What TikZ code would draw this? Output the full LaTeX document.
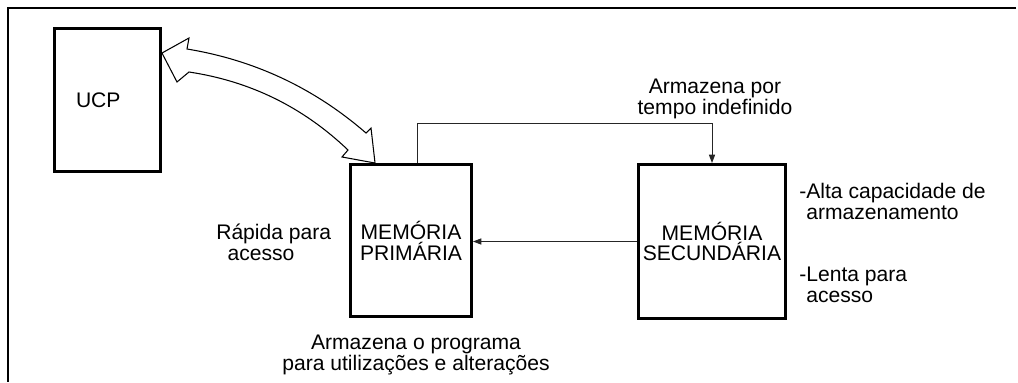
\documentclass[tikz,border=0pt]{standalone}
\usepackage{fontspec}
\setmainfont{Liberation Sans}
\usetikzlibrary{arrows.meta}
\usetikzlibrary{calc}
\tikzstyle{unit}=[draw, line width=2.1pt, inner sep=0pt, align=center, font=\fontsize{15}{14.8}\selectfont]
\tikzstyle{note}=[inner sep=0pt, font=\fontsize{15}{14.8}\selectfont]
\tikzstyle{link} = [draw, line width=0.7pt, black!85, -{Triangle[length=6pt,width=4.4pt]}]
\tikzstyle{bus} = [draw, line width=0.75pt, fill=white, line join=miter]
\tikzstyle{frame} = [draw, line width=1pt]

\begin{document}
\begin{tikzpicture}[x=0.025cm, y=-0.025cm]
    % one unit is one pixel of the original figure
    \def\px{0.025cm}
    \useasboundingbox (0,0) rectangle (1018,382);
    \path[frame] (1016,8) -- (8,8) -- (8,382);

    % First we draw the three units
    \node[unit, minimum height=143*\px, text width=63*\px, inner xsep=21.5*\px, align=left] (ucp) at (107.5,100) {UCP};
    \foreach \pos/\name/\w/\h/\label in {{(411,240.5)/prim/121/152/{MEMÓRIA\\PRIMÁRIA}}, {(712,241.5)/sec/147/154/{MEMÓRIA\\SECUNDÁRIA}}}
        \node[unit, minimum width=\w*\px, minimum height=\h*\px] (\name) at \pos {\label};

    % wide two-headed arrow between UCP and primary memory
    \coordinate (cpuTip) at ($(ucp.north east)+(0,26)$);
    \coordinate (memTip) at ($(prim.north west)+(26,0)$);
    \path[bus] (cpuTip) -- (189,38) -- (187,49) .. controls (254.6,60.1) and (314.2,88.1) .. (366,133) -- (371,128) -- (memTip) -- (342,157) -- (348,150) .. controls (303.2,107.2) and (250.2,81.2) .. (189,72) -- (177,82) -- cycle;

    % Connect the memories
    \coordinate (bend) at ($(sec.north)+(0,-40)$);
    \path[link] ($(prim.north)+(6,0)$) |- (bend) -- (sec.north);
    \path[link] (sec.west) -- (prim.east |- sec.west);

    % notes around the units
    \foreach \pos/\name/\anc/\al/\txt in {{(715,79)/lblStore/north/center/{Armazena por\\tempo indefinido}}, {(216,224)/lblFast/north west/left/{Rápida para\\\hspace{8pt}acesso}}, {(799,183)/lblCap/north west/left/{-Alta capacidade de\\\phantom{-}armazenamento}}, {(799,267)/lblSlow/north west/left/{-Lenta para\\\phantom{-}acesso}}, {(416,335)/lblProg/north/center/{Armazena o programa\\para utilizações e alterações}}}
        \node[note, anchor=\anc, align=\al] (\name) at \pos {\txt};
\end{tikzpicture}
\end{document}
